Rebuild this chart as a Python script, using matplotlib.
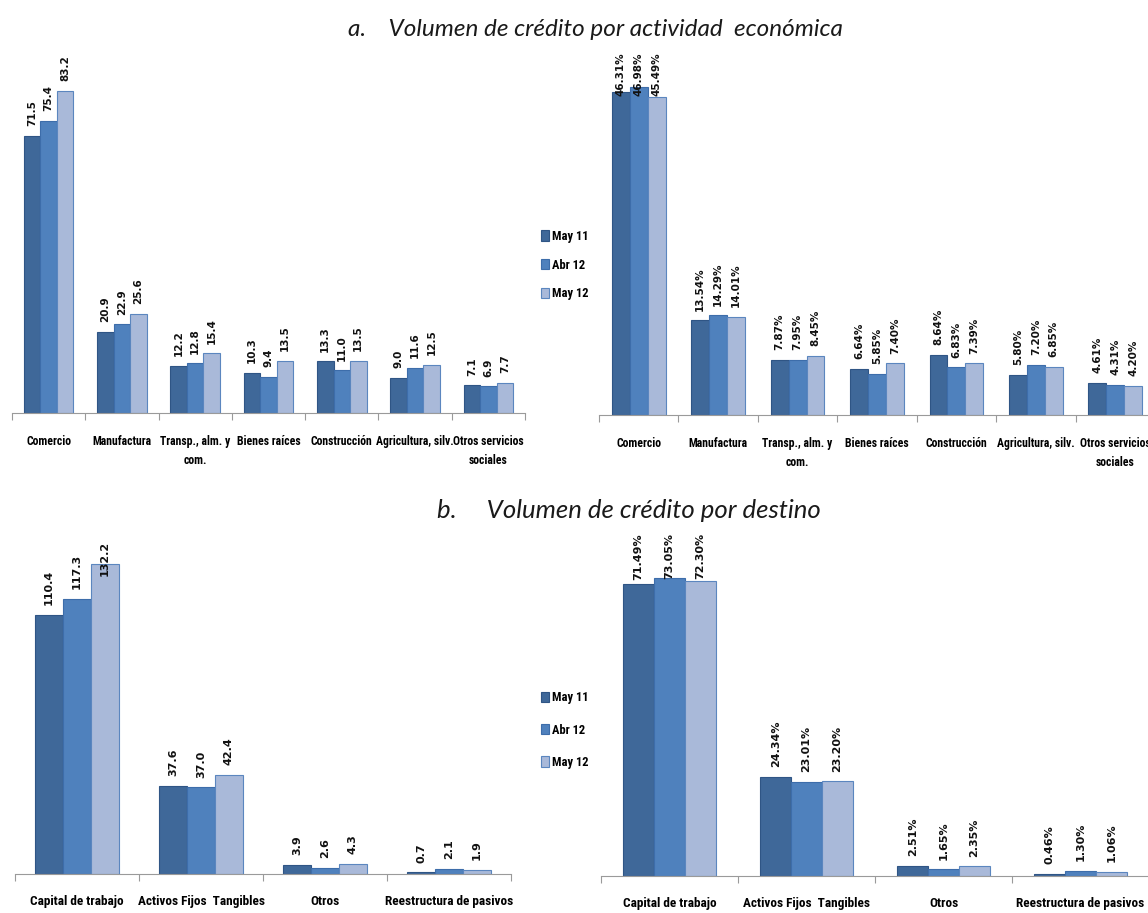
import numpy as np
import matplotlib
matplotlib.use('Agg')
from matplotlib import pyplot as plt
from matplotlib import font_manager
from matplotlib.patches import Patch

plt.rcParams['font.family'] = ['Lato', 'DejaVu Sans']


def pick_font(names):
    for nm in names:
        try:
            font_manager.findfont(nm, fallback_to_default=False)
            return nm
        except Exception:
            pass
    return 'Lato'


narrow = pick_font(['Liberation Sans Narrow', 'Roboto Condensed', 'Open Sans Condensed', 'Lato'])

series = ['May 11', 'Abr 12', 'May 12']
colors = ['#3F6899', '#4F81BD', '#A9B9D9']
edges = ['#2F5585', '#3D6DAA', '#5B86BF']

# volumen por actividad economica
act_cats = ['Comercio', 'Manufactura', 'Transp., alm. y\ncom.', 'Bienes raíces',
            'Construcción', 'Agricultura, silv.', 'Otros servicios\nsociales']
act_may11 = [71.5, 20.9, 12.2, 10.3, 13.3, 9.0, 7.1]
act_abr12 = [75.4, 22.9, 12.8, 9.4, 11.0, 11.6, 6.9]
act_may12 = [83.2, 25.6, 15.4, 13.5, 13.5, 12.5, 7.7]

act_pct_may11 = [46.31, 13.54, 7.87, 6.64, 8.64, 5.80, 4.61]
act_pct_abr12 = [46.98, 14.29, 7.95, 5.85, 6.83, 7.20, 4.31]
act_pct_may12 = [45.49, 14.01, 8.45, 7.40, 7.39, 6.85, 4.20]

# volumen por destino
dest_cats = ['Capital de trabajo', 'Activos Fijos  Tangibles', 'Otros', 'Reestructura de pasivos']
dest_may11 = [110.4, 37.6, 3.9, 0.7]
dest_abr12 = [117.3, 37.0, 2.6, 2.1]
dest_may12 = [132.2, 42.4, 4.3, 1.9]

dest_pct_may11 = [71.49, 24.34, 2.51, 0.46]
dest_pct_abr12 = [73.05, 23.01, 1.65, 1.30]
dest_pct_may12 = [72.30, 23.20, 2.35, 1.06]

W, H = 1148, 913
fig = plt.figure(figsize=(W / 100, H / 100), dpi=100)


def px_axes(left, right, top, bottom):
    return fig.add_axes([left / W, 1 - bottom / H, (right - left) / W, (bottom - top) / H])


labels_all = []


def bar_panel(ax, cats, data, ymax, fmt, lab_size, cat_size, cat_pad):
    n = len(cats)
    x = np.arange(n)
    w = 0.225
    for k, vals in enumerate(data):
        xs = x + (k - 1) * w
        ax.bar(xs, vals, w, color=colors[k], edgecolor=edges[k], linewidth=0.8)
        for xi, v in zip(xs, vals):
            t = ax.annotate(fmt.format(v), (xi, v), xytext=(0, 7), textcoords='offset points',
                            rotation=90, ha='center', va='bottom', fontsize=lab_size,
                            fontweight='bold', family='DejaVu Sans', color='#111111')
            labels_all.append((ax, t))
    ax.set_xlim(-0.5, n - 0.5)
    ax.set_ylim(0, ymax)
    for s in ['left', 'right', 'top']:
        ax.spines[s].set_visible(False)
    ax.spines['bottom'].set_color('#9A9A9A')
    ax.set_yticks([])
    ax.set_xticks(np.arange(n + 1) - 0.5)
    ax.set_xticklabels([])
    ax.tick_params(axis='x', which='major', length=5, color='#9A9A9A', direction='out')
    ax.set_xticks(x, minor=True)
    ax.set_xticklabels(cats, minor=True, fontsize=cat_size, fontweight='bold',
                       family=narrow, linespacing=1.6)
    ax.tick_params(axis='x', which='minor', length=0, pad=cat_pad)
    ax.patch.set_alpha(0)


ax1 = px_axes(12, 525, 45, 413)
bar_panel(ax1, act_cats, [act_may11, act_abr12, act_may12], 95, '{:.1f}', 7.5, 8.5, 16)

ax2 = px_axes(599, 1155, 52, 415)
bar_panel(ax2, act_cats, [act_pct_may11, act_pct_abr12, act_pct_may12], 52, '{:.2f}%', 7.5, 8.5, 16)

ax3 = px_axes(15, 511, 541, 874)
bar_panel(ax3, dest_cats, [dest_may11, dest_abr12, dest_may12], 142, '{:.1f}', 8, 9.5, 15)

ax4 = px_axes(601, 1149, 533, 876)
bar_panel(ax4, dest_cats, [dest_pct_may11, dest_pct_abr12, dest_pct_may12], 84, '{:.2f}%', 8, 9.5, 15)

# value labels that would run past the plot top get pulled back inside
fig.canvas.draw()
r = fig.canvas.get_renderer()
for ax, t in labels_all:
    top = ax.get_window_extent(r).y1
    bb = t.get_window_extent(r)
    if bb.y1 > top:
        dx, dy = t.xyann
        t.xyann = (dx, dy - (bb.y1 - top) * 72 / fig.dpi)

handles = [Patch(facecolor=c, edgecolor=e, linewidth=0.8) for c, e in zip(colors, edges)]
for cy, sp in [(265, 1.25), (730, 1.55)]:
    fig.legend(handles, series, loc='center', bbox_to_anchor=(565 / W, 1 - cy / H),
               frameon=False, handlelength=0.6, handleheight=0.9, handletextpad=0.3,
               labelspacing=sp, prop={'weight': 'bold', 'size': 9, 'family': narrow})

fig.text(595 / W, 1 - 30 / H, 'a.    Volumen de crédito por actividad  económica',
         ha='center', va='center', fontsize=17.5, style='italic', color='#1A1A1A')
fig.text(629 / W, 1 - 510 / H, 'b.     Volumen de crédito por destino',
         ha='center', va='center', fontsize=18.5, style='italic', color='#1A1A1A')

fig.savefig('out.png', dpi=100, facecolor='white')
